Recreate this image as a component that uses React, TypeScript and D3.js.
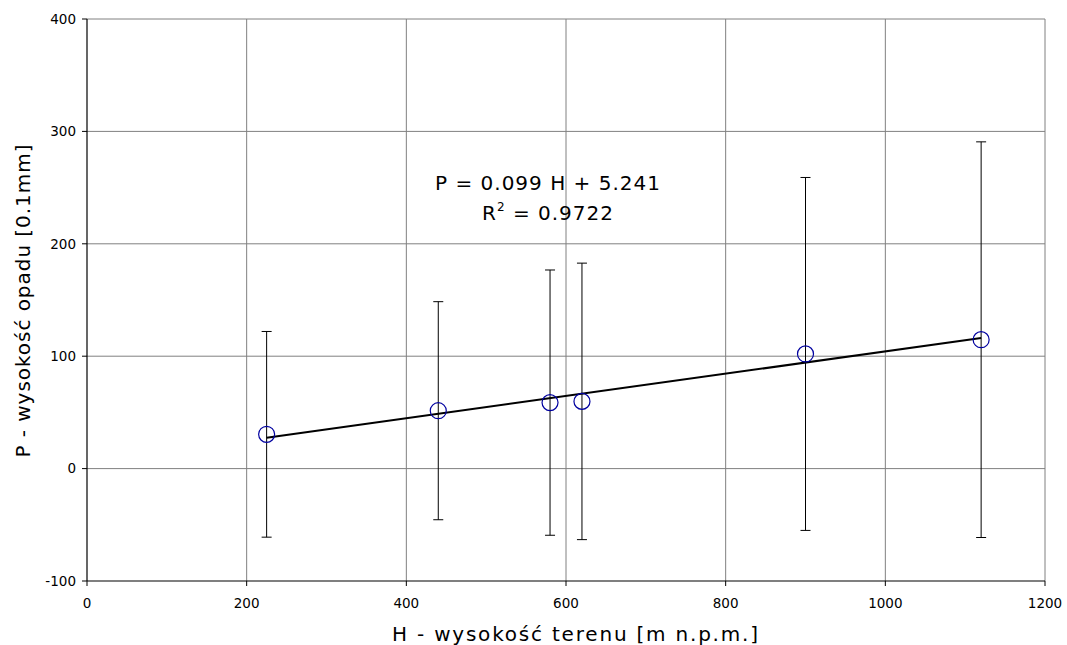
import React from "react";
import * as d3 from "d3";

const xTicks = [0, 200, 400, 600, 800, 1000, 1200];
const yTicks = [-100, 0, 100, 200, 300, 400];
const heights = [225, 440, 580, 620, 900, 1120];
const means = [30.5, 51.5, 58.7, 59.8, 102, 114.7];
const errs = [91.5, 97, 118, 123, 157, 176];
const slope = 0.099;
const intercept = 5.241;

export default function App() {
  const W = 1067, H = 645;
  const x = d3.scaleLinear().domain([0, 1200]).range([87, 1045]);
  const y = d3.scaleLinear().domain([-100, 400]).range([581, 19]);
  const font = "Verdana, 'DejaVu Sans', sans-serif";
  const hMin = d3.min(heights)!, hMax = d3.max(heights)!;
  const trend = d3.line<number>().x((h) => x(h)).y((h) => y(slope * h + intercept));
  return (
    <svg width={W} height={H} style={{ position: "absolute", left: 0, top: 0 }} fontFamily={font}>
      <rect width={W} height={H} fill="white" />
      {xTicks.filter((t) => t !== 0).map((t) => (
        <line key={"gx" + t} x1={x(t)} x2={x(t)} y1={y(400)} y2={y(-100)} stroke="#808080" strokeWidth={1} />
      ))}
      {yTicks.filter((t) => t !== -100).map((t) => (
        <line key={"gy" + t} x1={x(0)} x2={x(1200)} y1={y(t)} y2={y(t)} stroke="#808080" strokeWidth={1} />
      ))}
      <line x1={x(0)} x2={x(0)} y1={y(400)} y2={y(-100)} stroke="black" strokeWidth={1.2} />
      <line x1={x(0)} x2={x(1200)} y1={y(-100)} y2={y(-100)} stroke="black" strokeWidth={1.2} />
      {yTicks.map((t) => (
        <g key={"ty" + t}>
          <line x1={x(0) - 5} x2={x(0)} y1={y(t)} y2={y(t)} stroke="black" />
          <text x={x(0) - 11} y={y(t)} dy="0.36em" textAnchor="end" fontSize={13.5} fill="black">{t}</text>
        </g>
      ))}
      {xTicks.map((t) => (
        <g key={"tx" + t}>
          <line x1={x(t)} x2={x(t)} y1={y(-100)} y2={y(-100) + 5} stroke="black" />
          <text x={x(t)} y={y(-100) + 27} textAnchor="middle" fontSize={13.5} fill="black">{t}</text>
        </g>
      ))}
      {heights.map((h, i) => (
        <g key={"e" + i}>
          <line x1={x(h)} x2={x(h)} y1={y(means[i] + errs[i])} y2={y(means[i] - errs[i])} stroke="black" strokeWidth={1} />
          <line x1={x(h) - 5} x2={x(h) + 5} y1={y(means[i] + errs[i])} y2={y(means[i] + errs[i])} stroke="black" strokeWidth={1} />
          <line x1={x(h) - 5} x2={x(h) + 5} y1={y(means[i] - errs[i])} y2={y(means[i] - errs[i])} stroke="black" strokeWidth={1} />
        </g>
      ))}
      <path d={trend([hMin, hMax]) || ""} stroke="black" strokeWidth={2} fill="none" />
      {heights.map((h, i) => (
        <circle key={"c" + i} cx={x(h)} cy={y(means[i])} r={8} fill="none" stroke="#0000A0" strokeWidth={1.2} />
      ))}
      <text x={548} y={190} textAnchor="middle" fontSize={20} letterSpacing={1} fill="black">P = 0.099 H + 5.241</text>
      <text x={548} y={220} textAnchor="middle" fontSize={20} letterSpacing={1} fill="black">
        R<tspan dy={-9} fontSize={12}>2</tspan><tspan dy={9}> = 0.9722</tspan>
      </text>
      <text x={575} y={641} textAnchor="middle" fontSize={20} textLength={366} lengthAdjust="spacing" fill="black">H - wysokość terenu [m n.p.m.]</text>
      <text transform={`translate(30,301) rotate(-90)`} textAnchor="middle" fontSize={20} textLength={313} lengthAdjust="spacing" fill="black">P - wysokość opadu [0.1mm]</text>
    </svg>
  );
}
